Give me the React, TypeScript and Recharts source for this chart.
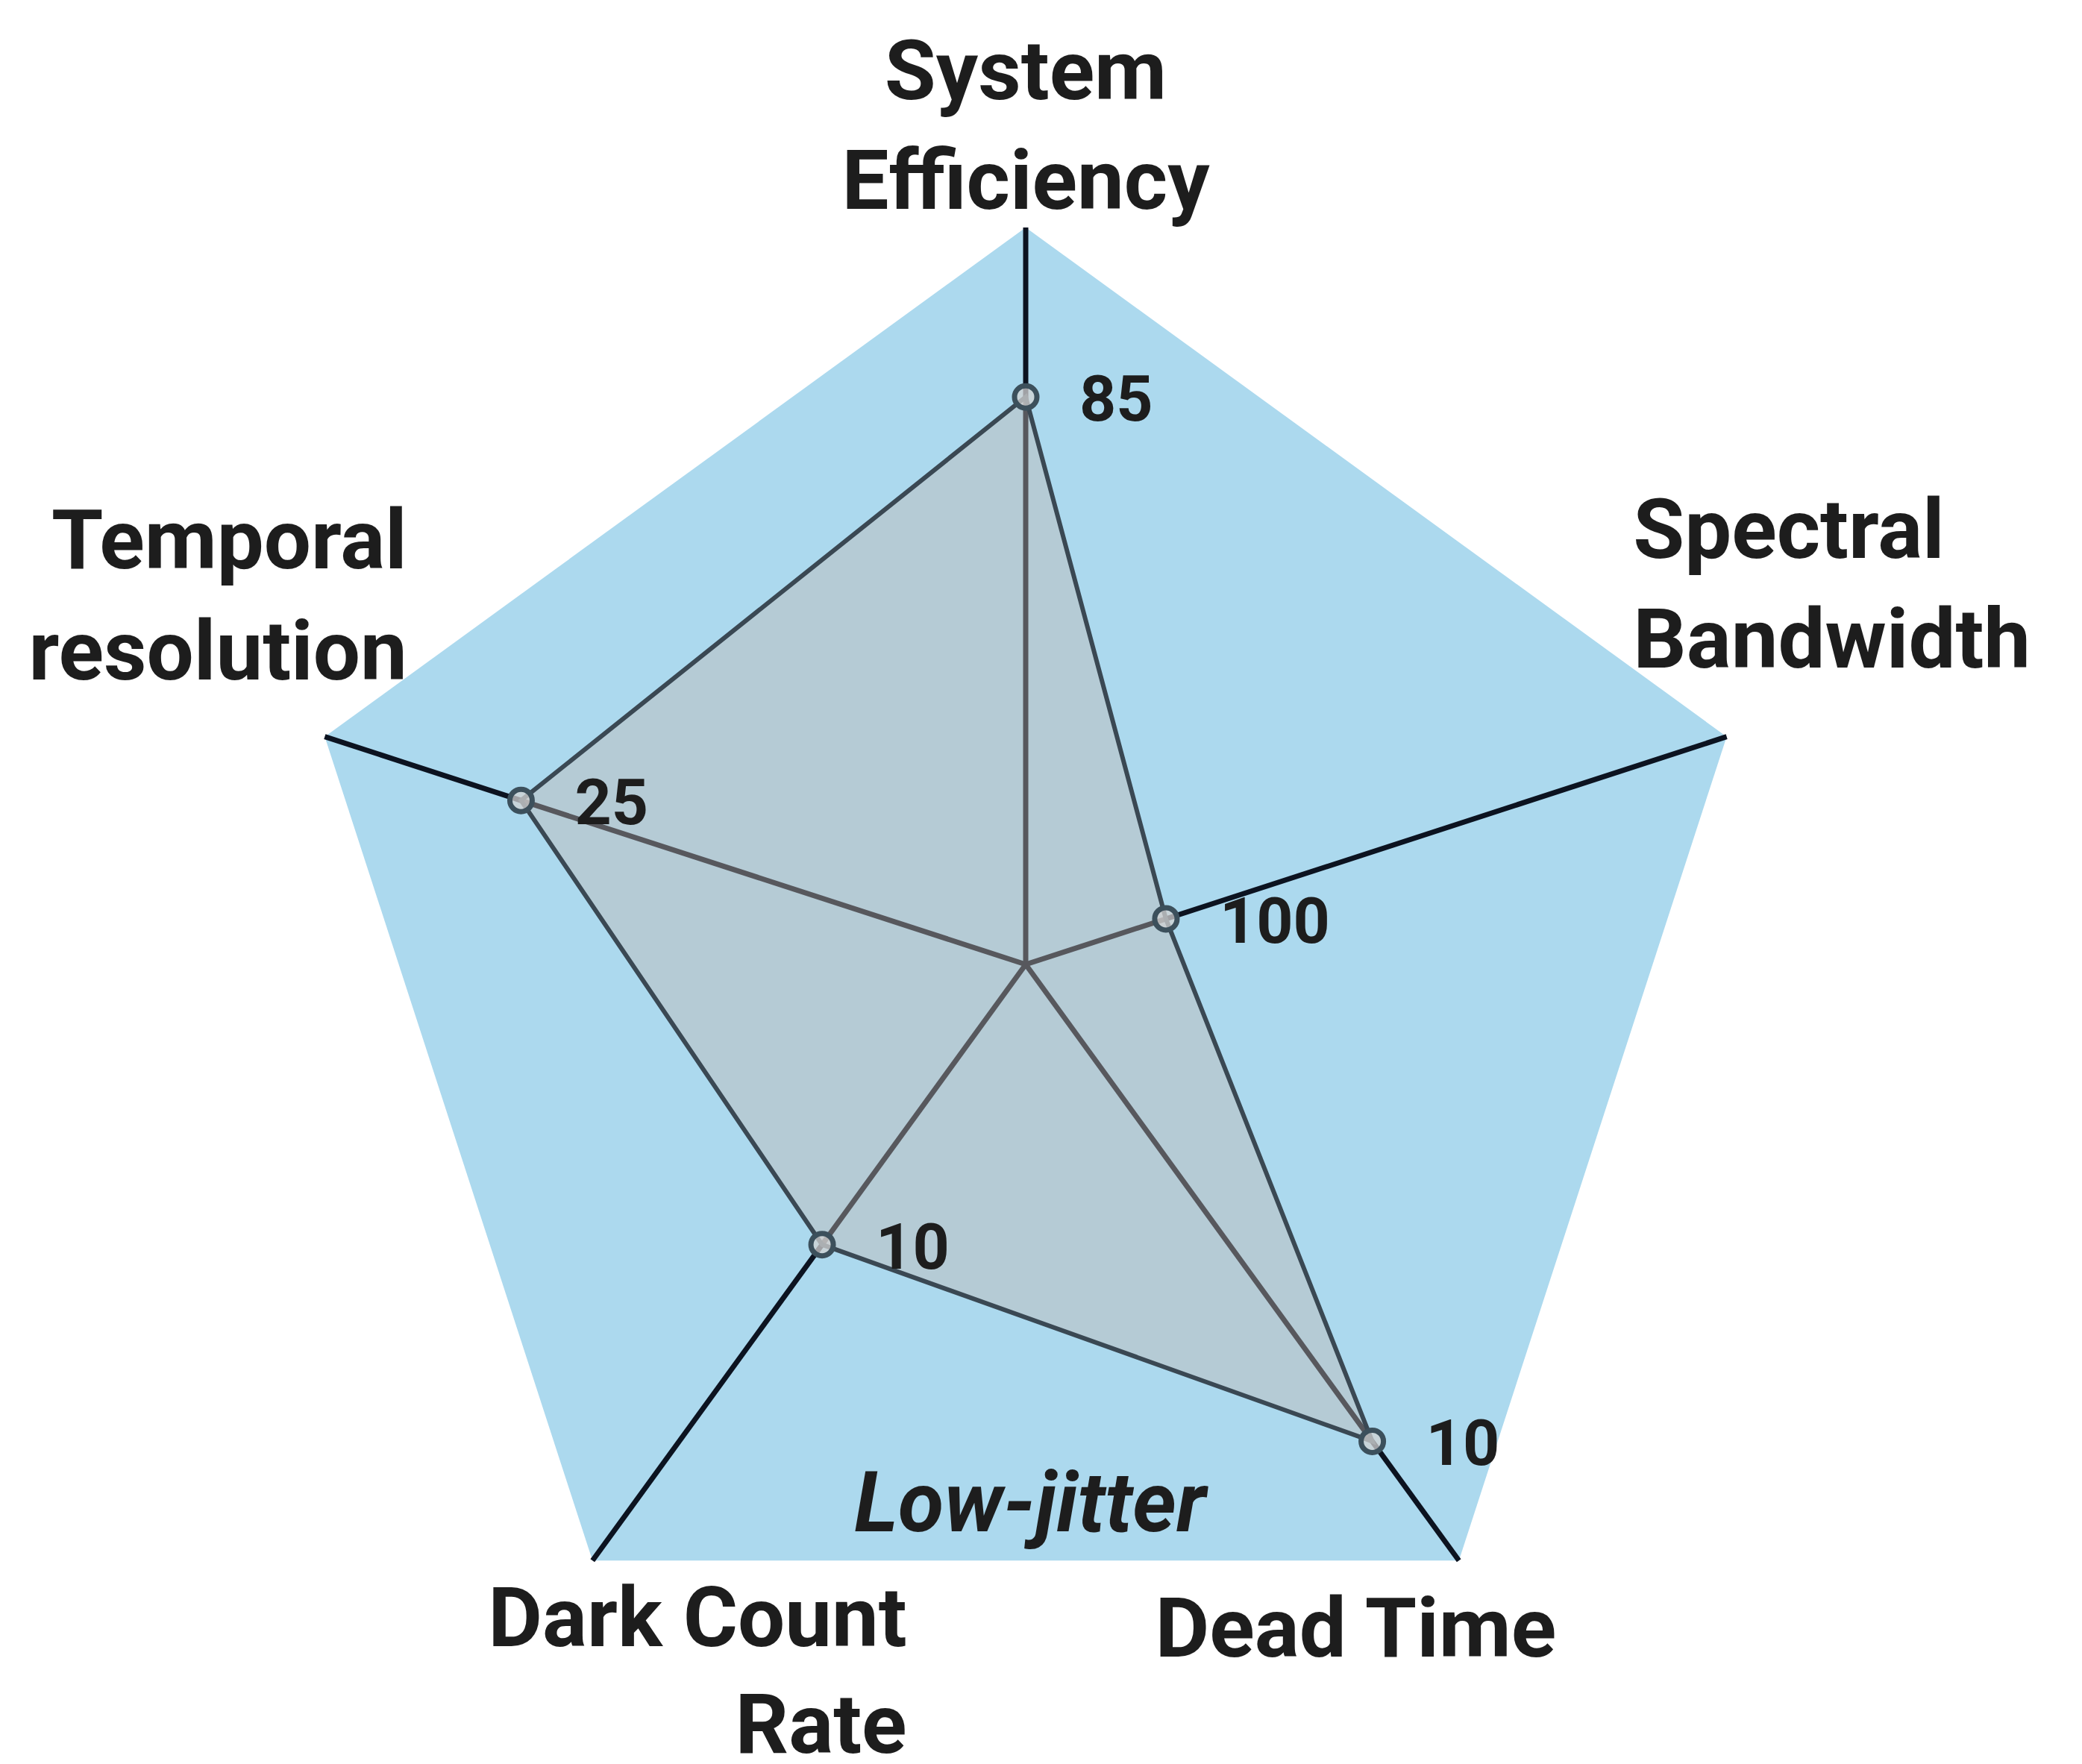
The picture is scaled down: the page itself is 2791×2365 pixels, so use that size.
import React from 'react';
import { RadarChart, Radar, PolarGrid, PolarAngleAxis, PolarRadiusAxis } from 'recharts';

const categories = ['System Efficiency', 'Spectral Bandwidth', 'Dead Time', 'Dark Count Rate', 'Temporal resolution'];
const labelLines = [['System', 'Efficiency'], ['Spectral', 'Bandwidth'], ['Dead Time'], ['Dark Count', 'Rate'], ['Temporal', 'resolution']];
const scores = [77, 20, 80, 47, 72];
const shownValues = ['85', '100', '10', '10', '25'];
const scaleMax = 100;
const detectorName = 'Low-jitter';

const data = categories.map((axis, i) => ({ axis, score: scores[i], full: scaleMax }));

const W = 2791;
const H = 2365;
const CX = 1375;
const CY = 1293;
const R = 988;
const FONT = 'Roboto, "Noto Sans", sans-serif';
const TEXT = '#1d1d1d';

// where each axis title sits relative to its tick anchor
const labelLayout: Record<string, { dx: number; dy: number; anchor: string; gap: number }> = {
  'System Efficiency': { dx: 0, dy: -164, anchor: 'middle', gap: 147 },
  'Spectral Bandwidth': { dx: -133, dy: -237, anchor: 'start', gap: 147 },
  'Dead Time': { dx: -143, dy: 122, anchor: 'middle', gap: 147 },
  'Dark Count Rate': { dx: 426, dy: 108, anchor: 'end', gap: 143 },
  'Temporal resolution': { dx: 118, dy: -223, anchor: 'end', gap: 149 },
};

const AxisTick = (props: any) => {
  const { x, y, payload } = props;
  const idx = categories.indexOf(payload.value);
  const lay = labelLayout[payload.value];
  if (!lay) return null;
  return (
    <text x={x + lay.dx} y={y + lay.dy} textAnchor={lay.anchor as any} fill={TEXT}
      style={{ fontFamily: FONT, fontWeight: 700, fontSize: 112 }}>
      {labelLines[idx].map((ln, k) => (
        <tspan key={k} x={x + lay.dx} dy={k === 0 ? 0 : lay.gap}>{ln}</tspan>
      ))}
    </text>
  );
};

const ValueDot = (props: any) => {
  const { cx, cy, index } = props;
  return (
    <g key={'dot' + index}>
      <circle cx={cx} cy={cy} r={15} fill="#d2d2d2" fillOpacity={0.75} stroke="#3c505c" strokeWidth={7} />
      <text x={cx + 72} y={cy + 32} fill={TEXT} style={{ fontFamily: FONT, fontWeight: 700, fontSize: 86 }}>
        {shownValues[index]}
      </text>
    </g>
  );
};

const chartProps = {
  width: W,
  height: H,
  data,
  cx: CX,
  cy: CY,
  outerRadius: R,
  margin: { top: 0, right: 0, bottom: 0, left: 0 },
};

export default function App() {
  return (
    <div style={{ position: 'absolute', left: 0, top: 0, width: W, height: H, background: '#fff', fontFamily: FONT }}>
      {/* back layer: the blue pentagon */}
      <div style={{ position: 'absolute', left: 0, top: 0 }}>
        <RadarChart {...chartProps}>
          <PolarRadiusAxis domain={[0, scaleMax]} tick={false} axisLine={false} />
          <PolarAngleAxis dataKey="axis" tick={false} axisLine={false} tickLine={false} />
          <Radar dataKey="full" stroke="none" fill="#acd9ee" fillOpacity={1} isAnimationActive={false} />
        </RadarChart>
      </div>
      {/* front layer: spokes, data polygon, labels */}
      <div style={{ position: 'absolute', left: 0, top: 0 }}>
        <RadarChart {...chartProps}>
          <PolarGrid gridType="polygon" polarRadius={[0]} stroke="#0c1320" strokeWidth={7} />
          <PolarRadiusAxis domain={[0, scaleMax]} tick={false} axisLine={false} />
          <PolarAngleAxis dataKey="axis" tick={AxisTick} axisLine={false} tickLine={false} />
          <Radar dataKey="score" stroke="#3a4853" strokeWidth={6} fill="#c2b8b2" fillOpacity={0.42}
            dot={ValueDot} isAnimationActive={false} />
        </RadarChart>
      </div>
      <div style={{ position: 'absolute', left: 0, top: 1950, width: 2762, textAlign: 'center',
        fontFamily: FONT, fontWeight: 700, fontStyle: 'italic', fontSize: 112, lineHeight: '130px', color: TEXT }}>
        {detectorName}
      </div>
    </div>
  );
}
